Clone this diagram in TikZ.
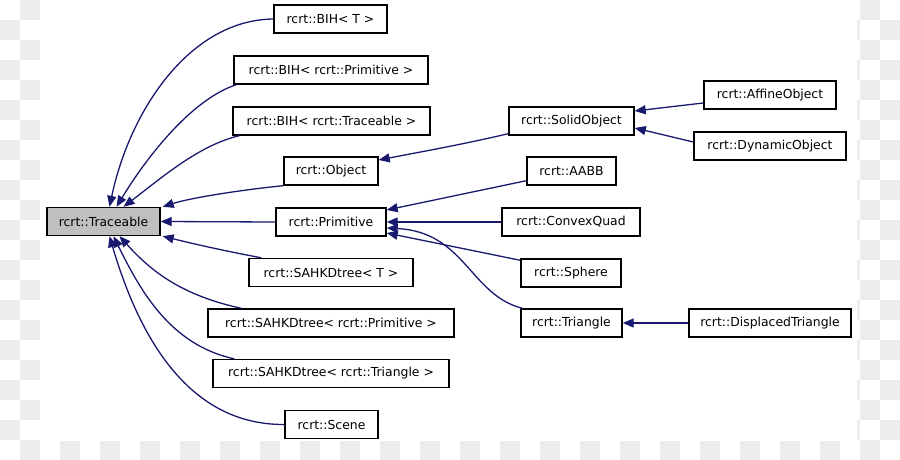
\documentclass[tikz,border=0pt]{standalone}
\usepackage{fontspec}
\setmainfont{DejaVu Sans}
\usetikzlibrary{arrows.meta}
\definecolor{edgeblue}{HTML}{191970}
\definecolor{chk}{HTML}{ECECEC}
\definecolor{basegray}{HTML}{BFBFBF}
\begin{document}
\begin{tikzpicture}[x=1pt,y=-1pt,
  box/.style={draw=black,line width=1.4pt,fill=white,minimum height=28pt,inner sep=0pt,
    font=\fontsize{12.4}{14}\selectfont},
  edge/.style={draw=edgeblue,line width=1.3pt,-{Triangle[length=11pt,width=9pt]}}]
\useasboundingbox (0,0) rectangle (900,460);
% checkerboard background
\foreach \i in {0,...,44}{\foreach \j in {0,...,22}{
  \pgfmathtruncatemacro{\chkpar}{mod(\i+\j,2)}
  \ifnum\chkpar=1 \fill[chk] (\i*20,\j*20) rectangle ++(20,20);\fi}}
\fill[white] (40,0) rectangle (857,441);
% nodes
\node[box,fill=basegray,minimum width=113pt] (trace) at (103.5,221.5) {rcrt::Traceable};
\node[box,minimum width=113pt] (bihT) at (330.5,19) {rcrt::BIH< T >};
\node[box,minimum width=194pt] (bihP) at (331,70) {rcrt::BIH< rcrt::Primitive >};
\node[box,minimum width=197pt] (bihTr) at (331.5,121) {rcrt::BIH< rcrt::Traceable >};
\node[box,minimum width=94pt] (obj) at (331,171) {rcrt::Object};
\node[box,minimum width=110pt] (prim) at (331,222) {rcrt::Primitive};
\node[box,minimum width=164pt] (sahT) at (331,272.5) {rcrt::SAHKDtree< T >};
\node[box,minimum width=246pt] (sahP) at (331,323) {rcrt::SAHKDtree< rcrt::Primitive >};
\node[box,minimum width=236pt] (sahTr) at (331,373.5) {rcrt::SAHKDtree< rcrt::Triangle >};
\node[box,minimum width=93pt] (scene) at (331.5,424.5) {rcrt::Scene};
\node[box,minimum width=125pt] (solid) at (571.5,121) {rcrt::SolidObject};
\node[box,minimum width=132pt] (affine) at (770,95) {rcrt::AffineObject};
\node[box,minimum width=152pt] (dyn) at (770,146) {rcrt::DynamicObject};
\node[box,minimum width=89pt] (aabb) at (571.5,171) {rcrt::AABB};
\node[box,minimum width=138pt] (convex) at (571,222) {rcrt::ConvexQuad};
\node[box,minimum width=100pt] (sphere) at (571,273) {rcrt::Sphere};
\node[box,minimum width=101pt] (tri) at (571.5,323) {rcrt::Triangle};
\node[box,minimum width=162pt] (disp) at (770,323) {rcrt::DisplacedTriangle};
% edges to Traceable
\draw[edge] (bihT.west) .. controls (190,20) and (130,110) .. ([xshift=6pt]trace.north);
\draw[edge] ([xshift=3pt]bihP.south west) .. controls (190,100) and (145,160) .. ([xshift=13pt]trace.north);
\draw[edge] ([xshift=7pt]bihTr.south west) .. controls (200,145) and (165,175) .. ([xshift=20pt]trace.north);
\draw[edge] (obj.south west) .. controls (240,190) and (190,198) .. ([xshift=2pt]trace.north east);
\draw[edge] (prim.west) -- (trace.east);
\draw[edge] ([xshift=13pt]sahT.north west) .. controls (220,250) and (190,243) .. ([xshift=2pt]trace.south east);
\draw[edge] ([xshift=34pt]sahP.north west) .. controls (180,295) and (150,270) .. ([xshift=16pt]trace.south);
\draw[edge] ([xshift=22pt]sahTr.north west) .. controls (170,345) and (140,290) .. ([xshift=10pt]trace.south);
\draw[edge] (scene.west) .. controls (190,425) and (140,340) .. ([xshift=6pt]trace.south);
% right part
\draw[edge] ([yshift=2pt]solid.south west) .. controls (460,145) and (420,152) .. ([yshift=11pt]obj.east);
\draw[edge] ([yshift=-8pt]affine.west) -- ([yshift=10pt]solid.east);
\draw[edge] ([yshift=4pt]dyn.west) -- ([yshift=-7pt]solid.east);
\draw[edge] ([yshift=5pt]aabb.south west) -- ([yshift=12pt]prim.east);
\draw[edge] (convex.west) -- (prim.east);
\draw[edge] ([yshift=-2pt]sphere.north west) -- ([yshift=-11pt]prim.east);
\draw[edge] ([xshift=2pt]tri.north west) .. controls (470,295) and (465,232) .. ([yshift=-6pt]prim.east);
\draw[edge] (disp.west) -- (tri.east);
\end{tikzpicture}
\end{document}
